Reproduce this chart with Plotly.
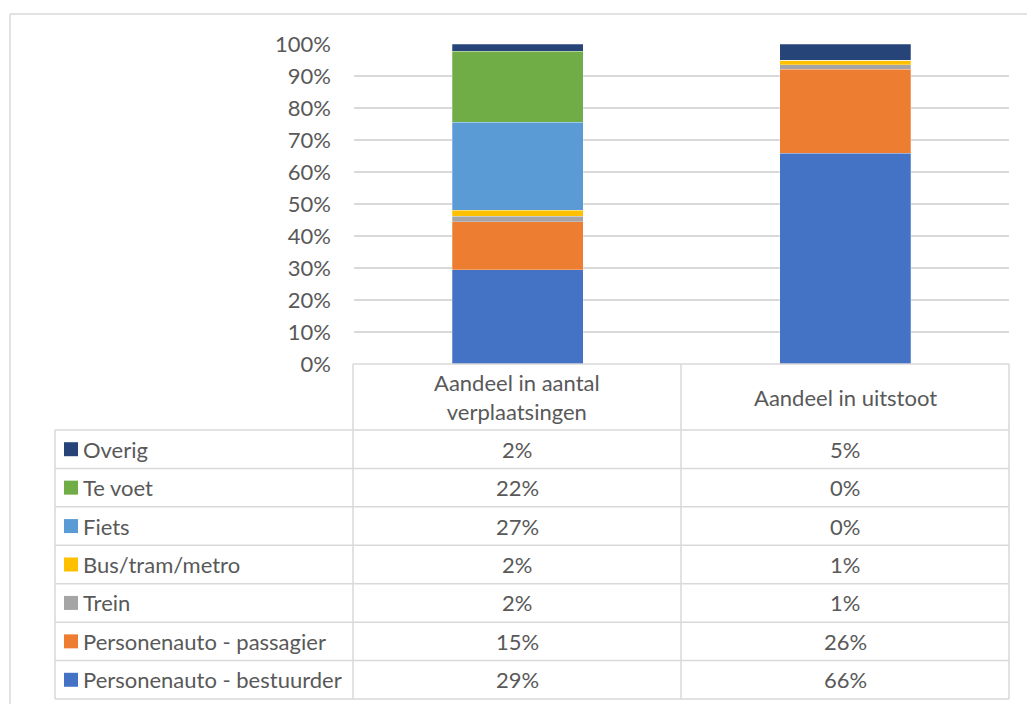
import plotly.graph_objects as go

# Vervoerwijzen, van onder naar boven gestapeld
modes = ["Personenauto - bestuurder", "Personenauto - passagier", "Trein",
         "Bus/tram/metro", "Fiets", "Te voet", "Overig"]
categories = ["Aandeel in aantal<br>verplaatsingen", "Aandeel in uitstoot"]
share_trips = [0.294, 0.151, 0.016, 0.020, 0.274, 0.223, 0.022]
share_emissions = [0.658, 0.263, 0.014, 0.014, 0.0, 0.0, 0.051]
colors = ["#4472C4", "#ED7D31", "#A5A5A5", "#FFC000", "#5B9BD5", "#70AD47", "#264478"]
y_ticks = [i / 10 for i in range(11)]

W, H = 1027, 704
FONT = "Lato"
FS = 22
TXT = "#595959"
GRID = "#D9D9D9"

# Plotgebied en tabelindeling in pixels
PX0, PX1 = 354, 1009
PY_TOP, PY_BOT = 44, 364
COL = [55, 353, 681, 1009]
ROW_TOP, ROW_BOT = 430, 699


def fx(px):
    return px / W


def fy(py):
    return 1 - py / H


fig = go.Figure()
for i, mode in enumerate(modes):
    fig.add_trace(go.Bar(
        x=categories,
        y=[share_trips[i], share_emissions[i]],
        name=mode,
        marker=dict(color=colors[i], line=dict(color="rgba(255,255,255,0.5)", width=0.5)),
        showlegend=False,
    ))

shapes = []
line = dict(color=GRID, width=1.5)
# buitenrand van de grafiek (alleen links en boven zichtbaar)
shapes.append(dict(type="line", xref="paper", yref="paper",
                   x0=fx(10), x1=fx(10), y0=0, y1=fy(14), line=line))
shapes.append(dict(type="line", xref="paper", yref="paper",
                   x0=fx(10), x1=1, y0=fy(14), y1=fy(14), line=line))
# kopregel van de tabel
shapes.append(dict(type="line", xref="paper", yref="paper",
                   x0=fx(COL[1]), x1=fx(COL[3]), y0=fy(PY_BOT), y1=fy(PY_BOT), line=line))
for c in COL[1:]:
    shapes.append(dict(type="line", xref="paper", yref="paper",
                       x0=fx(c), x1=fx(c), y0=fy(PY_BOT), y1=fy(ROW_BOT), line=line))
shapes.append(dict(type="line", xref="paper", yref="paper",
                   x0=fx(COL[0]), x1=fx(COL[0]), y0=fy(ROW_TOP), y1=fy(ROW_BOT), line=line))
n = len(modes)
rh = (ROW_BOT - ROW_TOP) / n
for r in range(n + 1):
    yy = ROW_TOP + r * rh
    shapes.append(dict(type="line", xref="paper", yref="paper",
                       x0=fx(COL[0]), x1=fx(COL[3]), y0=fy(yy), y1=fy(yy), line=line))

annotations = []
# kolomkoppen
for j, cat in enumerate(categories):
    annotations.append(dict(x=fx((COL[j + 1] + COL[j + 2]) / 2), y=fy((PY_BOT + ROW_TOP) / 2),
                            xref="paper", yref="paper", text=cat, showarrow=False,
                            xanchor="center", yanchor="middle",
                            font=dict(family=FONT, size=FS, color=TXT)))

# tabelrijen: bovenste rij is de bovenste reeks
for r in range(n):
    k = n - 1 - r
    cy = ROW_TOP + (r + 0.5) * rh
    shapes.append(dict(type="rect", xref="paper", yref="paper",
                       x0=fx(64), x1=fx(78), y0=fy(cy - 7), y1=fy(cy + 7),
                       fillcolor=colors[k], line=dict(width=0)))
    annotations.append(dict(x=fx(81), y=fy(cy), xref="paper", yref="paper",
                            text=modes[k], showarrow=False, xanchor="left", yanchor="middle",
                            font=dict(family=FONT, size=FS, color=TXT)))
    for j, vals in enumerate([share_trips, share_emissions]):
        annotations.append(dict(x=fx((COL[j + 1] + COL[j + 2]) / 2), y=fy(cy),
                                xref="paper", yref="paper",
                                text=f"{round(vals[k] * 100):.0f}%", showarrow=False,
                                xanchor="center", yanchor="middle",
                                font=dict(family=FONT, size=FS, color=TXT)))

fig.update_layout(
    width=W, height=H,
    margin=dict(l=0, r=0, t=0, b=0, autoexpand=False),
    paper_bgcolor="white", plot_bgcolor="white",
    barmode="stack", bargap=0.6,
    shapes=shapes, annotations=annotations,
    xaxis=dict(domain=[fx(PX0), fx(PX1)], showticklabels=False, showgrid=False,
               zeroline=False, showline=False, fixedrange=True, automargin=False),
    yaxis=dict(domain=[fy(PY_BOT), fy(PY_TOP)], range=[0, 1], tickvals=y_ticks,
               tickformat=".0%", showgrid=True, gridcolor=GRID, gridwidth=1.5,
               zeroline=False, showline=False, ticks="", ticklabelstandoff=22,
               automargin=False, tickfont=dict(family=FONT, size=FS, color=TXT)),
)

fig.write_html("out.html")
